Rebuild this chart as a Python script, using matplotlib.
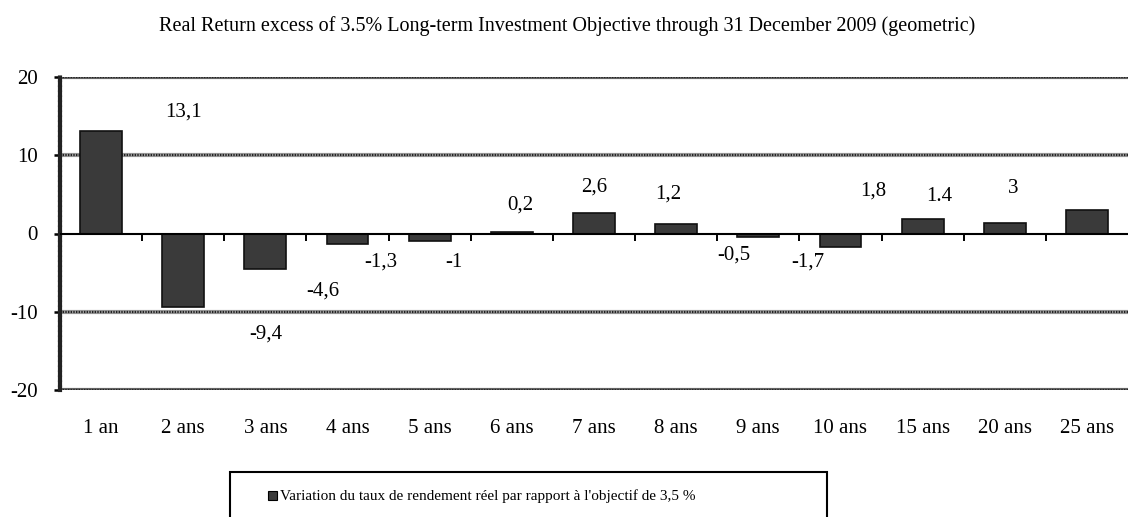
import numpy as np
import matplotlib
matplotlib.use("Agg")
import matplotlib.pyplot as plt
from matplotlib.patches import Rectangle

plt.rcParams['font.family'] = ['Liberation Serif', 'DejaVu Serif']

periods = ['1 an', '2 ans', '3 ans', '4 ans', '5 ans', '6 ans', '7 ans',
           '8 ans', '9 ans', '10 ans', '15 ans', '20 ans', '25 ans']
excess = [13.1, -9.4, -4.6, -1.3, -1.0, 0.2, 2.6, 1.2, -0.5, -1.7, 1.8, 1.4, 3.0]
# value labels as printed (decimal comma, except one entry)
label_text = ['13,1', '-9,4', '-4,6', '-1,3', '-1', '0,2', '2,6', '1,2',
              '-0,5', '-1,7', '1,8', '1.4', '3']
# where each value label sits (category units, data units)
label_x = [1.0, 2.0, 2.7, 3.4, 4.3, 5.1, 6.0, 6.9, 7.7, 8.6, 9.4, 10.2, 11.1]
label_y = [15.5, -12.8, -7.3, -3.7, -3.7, 3.7, 6.0, 5.1, -2.8, -3.7, 5.4, 4.7, 5.8]

title = ("Real Return excess of 3.5% Long-term Investment Objective "
         "through 31 December 2009 (geometric)")
legend_label = "Variation du taux de rendement réel par rapport à l'objectif de 3,5 %"

fig = plt.figure(figsize=(11.28, 5.17), dpi=100)
ax = fig.add_axes([60 / 1128, 1 - 390 / 517, 1 - 60 / 1128, (390 - 77) / 517])

x = np.arange(len(periods))
ax.bar(x, excess, width=0.51, color='#3a3a3a', edgecolor='#111111',
       linewidth=1.2, zorder=3)

for lx, ly, t in zip(label_x, label_y, label_text):
    ax.text(lx, ly, t, ha='center', va='center', fontsize=15, color='black')

ax.set_xlim(-0.5, len(periods) - 0.5)
ax.set_ylim(-20, 20)
ax.set_yticks([-20, -10, 0, 10, 20])
ax.set_yticklabels(['-20', '-10', '0', '10', '20'], fontsize=15)
ax.set_xticks(x)
ax.set_xticklabels(periods, fontsize=15)
ax.tick_params(axis='x', length=0, pad=21)
ax.tick_params(axis='y', length=4, width=1.8, color='black', pad=12)

# grid lines at +/-10 and frame at +/-20
for yv, band in [(-20, '#666666'), (-10, '#999999'), (10, '#999999'), (20, '#666666')]:
    ax.axhline(yv, color=band, lw=3.0, zorder=1)
    ax.axhline(yv, color='#222222', lw=1.6, ls=(0, (0.6, 0.6)), zorder=1)

# zero axis with tick marks between categories
ax.axhline(0, color='black', lw=1.5, zorder=4)
ax.vlines(x[:-1] + 0.5, -0.9, 0, color='black', lw=1.4, zorder=4)

for s in ['top', 'right', 'bottom']:
    ax.spines[s].set_visible(False)
ax.spines['left'].set_color('#222222')
ax.spines['left'].set_linewidth(3.0)
ax.spines['left'].set_linestyle((0, (0.6, 0.6)))

fig.text(567 / 1128, 1 - 26 / 517, title, ha='center', va='center', fontsize=14.5)

# legend box
fig.patches.append(Rectangle((230 / 1128, -0.05), (827 - 230) / 1128,
                             (517 - 472) / 517 + 0.05, transform=fig.transFigure,
                             fill=False, edgecolor='black', lw=1.5))
fig.patches.append(Rectangle((268 / 1128, 1 - 500 / 517), 9 / 1128, 9 / 517,
                             transform=fig.transFigure, facecolor='#3a3a3a',
                             edgecolor='black', lw=0.8))
fig.text(280 / 1128, 1 - 496 / 517, legend_label, ha='left', va='center', fontsize=11)

fig.savefig('out.png', dpi=100)
